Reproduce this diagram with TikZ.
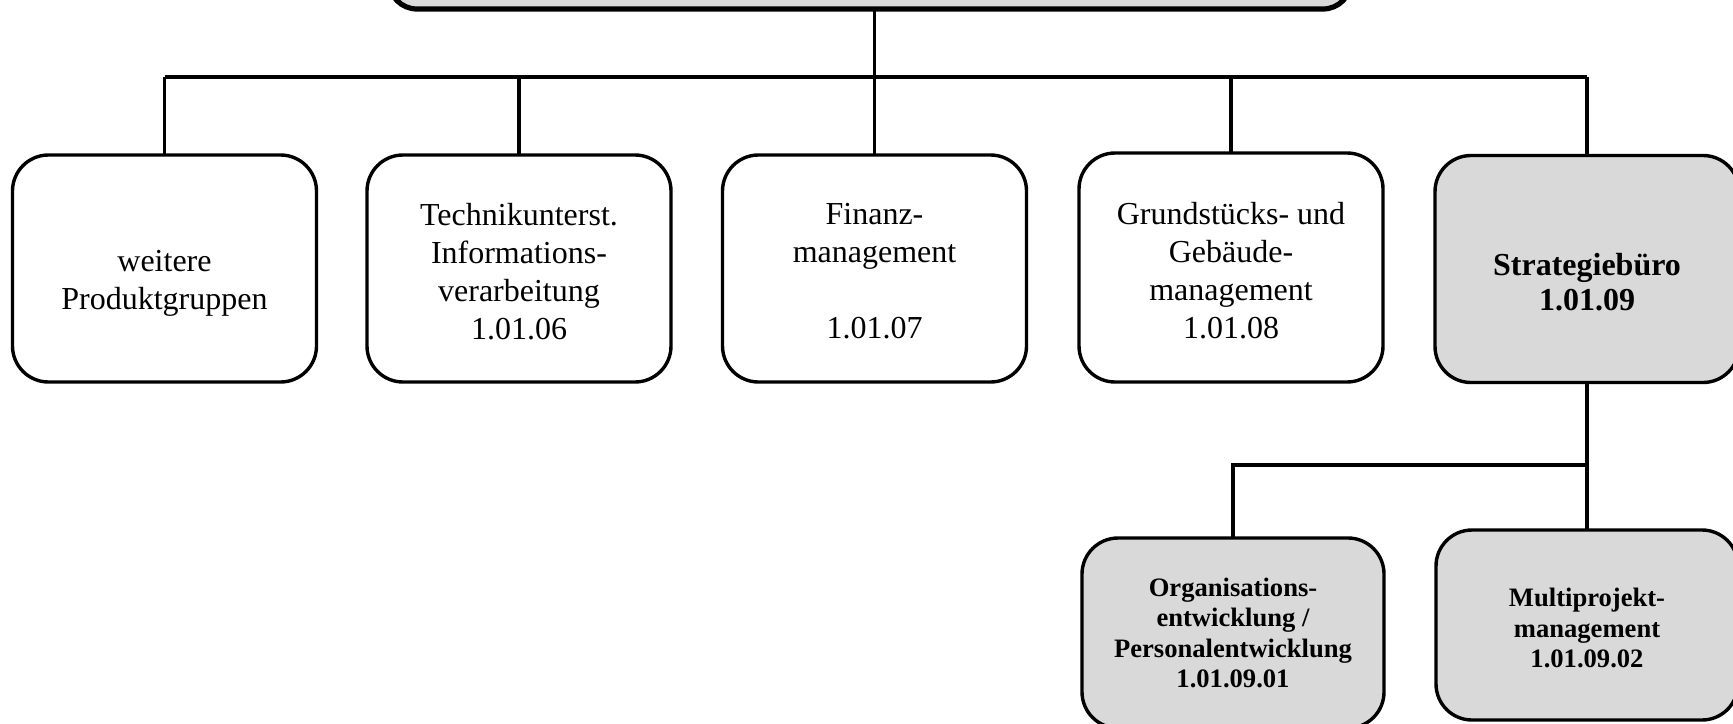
\documentclass[tikz,border=0pt]{standalone}
\usepackage{fontspec}
\setmainfont{Liberation Serif}
\definecolor{boxgray}{HTML}{D9D9D9}
\begin{document}
\begin{tikzpicture}[x=0.5pt,y=-0.5pt,
  box/.style={draw=black, line width=1.7pt, rounded corners=18pt, fill=white,
    minimum width=152pt, minimum height=113.5pt, outer sep=0pt, inner sep=0pt},
  graybox/.style={box, fill=boxgray},
  subbox/.style={graybox, minimum width=151pt, minimum height=95pt},
  topbox/.style={draw=black, line width=2.6pt, rounded corners=14pt, fill=boxgray,
    minimum width=481pt, minimum height=79pt, outer sep=0pt},
  txt/.style={align=center, inner sep=0pt, font=\fontsize{16}{19}\selectfont},
  btxt/.style={txt, font=\fontsize{16}{17.6}\selectfont\bfseries},
  stxt/.style={txt, font=\fontsize{13.3}{15.3}\selectfont\bfseries},
  conn/.style={draw=black, line width=1.55pt}]
\useasboundingbox (0,0) rectangle (1733,723);
\clip (0,0) rectangle (1733,723);
% top box (cut off by the page edge)
\node[topbox] (top) at (870,-70) {};
% first row
\node[box] (b1) at (164.5,268.5) {};
\node[box] (b2) at (519,268.5) {};
\node[box] (b3) at (874.5,268.5) {};
\node[box, minimum height=114.5pt] (b4) at (1231,267.5) {};
\node[graybox] (b5) at (1587,269) {};
% second row
\node[subbox] (b6) at (1233,633) {};
\node[subbox] (b7) at (1587,625) {};
% texts
\node[txt] (t1) at ([yshift=-7.5pt]b1.center) {weitere\\Produktgruppen};
\node[txt] (t2) at ([yshift=-1.5pt]b2.center) {Technikunterst.\\Informations-\\verarbeitung\\1.01.06};
\node[txt] (t3) at ([yshift=-1.5pt]b3.center) {Finanz-\\management\\\mbox{}\\1.01.07};
\node[txt] (t4) at ([yshift=-1.5pt]b4.center) {Grundstücks- und\\Gebäude-\\management\\1.01.08};
\node[btxt] (t5) at ([yshift=-6.5pt]b5.center) {Strategiebüro\\1.01.09};
\node[stxt] (t6) at (b6.center) {Organisations-\\entwicklung /\\Personalentwicklung\\1.01.09.01};
\node[stxt] (t7) at ([yshift=-1.5pt]b7.center) {Multiprojekt-\\management\\1.01.09.02};
% connectors
\coordinate (busy) at (0,77);
\coordinate (splity) at (0,465);
\draw[conn] (top.south -| b3.north) -- (b3.north |- busy);
\draw[conn] (b1.north |- busy) -- (b5.north |- busy);
\draw[conn] (b1.north) -- (b1.north |- busy);
\draw[conn] (b2.north) -- (b2.north |- busy);
\draw[conn] (b3.north) -- (b3.north |- busy);
\draw[conn] (b4.north) -- (b4.north |- busy);
\draw[conn] (b5.north) -- (b5.north |- busy);
\draw[conn] (b5.south) -- (b7.north);
\draw[conn] (b6.north) -- (b6.north |- splity) -- (b5.south |- splity);
\end{tikzpicture}
\end{document}
